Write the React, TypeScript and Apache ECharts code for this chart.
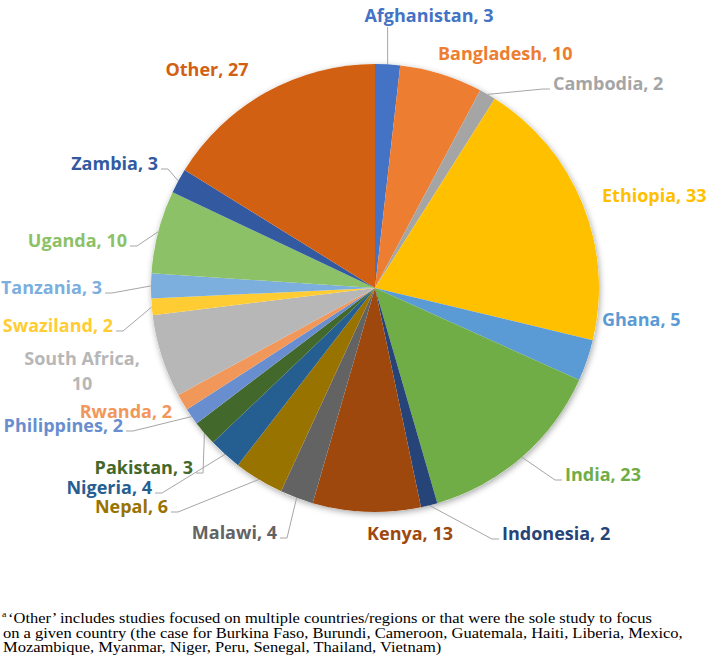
import React, { useEffect, useRef } from 'react';
import * as echarts from 'echarts';

// ---- data ----
const countries = [
  'Afghanistan', 'Bangladesh', 'Cambodia', 'Ethiopia', 'Ghana', 'India', 'Indonesia',
  'Kenya', 'Malawi', 'Nepal', 'Nigeria', 'Pakistan', 'Philippines', 'Rwanda',
  'South Africa', 'Swaziland', 'Tanzania', 'Uganda', 'Zambia', 'Other',
];
const studies = [3, 10, 2, 33, 5, 23, 2, 13, 4, 6, 4, 3, 2, 2, 10, 2, 3, 10, 3, 27];
const sliceColors = [
  '#4472C4', '#ED7D31', '#A5A5A5', '#FFC000', '#5B9BD5', '#70AD47', '#264478',
  '#9E480E', '#636363', '#997300', '#255E91', '#43682B', '#698ED0', '#F1975A',
  '#B7B7B7', '#FFCD33', '#7CAFDD', '#8CC168', '#335AA1', '#D26012',
];
const wrappedLabels = ['South Africa'];

const captionMark = 'a';
const captionLines = [
  '\u2018Other\u2019 includes studies focused on multiple countries/regions or that were the sole study to focus',
  'on a given country (the case for Burkina Faso, Burundi, Cameroon, Guatemala, Haiti, Liberia, Mexico,',
  'Mozambique, Myanmar, Niger, Peru, Senegal, Thailand, Vietnam)',
];

// label placement (layout only): [anchorX, centerY, align, leader mode]
const labelSpots: [number, number, string, string][] = [
  [429, 15, 'center', 'bottom'],
  [438, 53, 'left', 'none'],
  [553, 83, 'left', 'side'],
  [602, 195, 'left', 'none'],
  [602, 319, 'left', 'none'],
  [565, 474, 'left', 'side'],
  [502, 533, 'left', 'side'],
  [410, 533, 'center', 'none'],
  [277, 532, 'right', 'side'],
  [168, 506, 'right', 'side'],
  [152, 487, 'right', 'side'],
  [193, 467, 'right', 'side'],
  [123, 425, 'right', 'side'],
  [172, 411, 'right', 'none'],
  [82, 370, 'center', 'none'],
  [113, 325, 'right', 'side'],
  [102, 287, 'right', 'side'],
  [127, 240, 'right', 'side'],
  [158, 163, 'right', 'side'],
  [207, 69, 'center', 'none'],
];

const CENTER = [375, 288];
const RADIUS = 224;

export default function App() {
  const ref = useRef<HTMLDivElement>(null);
  useEffect(() => {
    if (!ref.current) return;
    const chart = echarts.init(ref.current, null, { renderer: 'svg' });
    const data = countries.map((name, i) => ({
      name,
      value: studies[i],
      itemStyle: { color: sliceColors[i] },
      label: {
        color: sliceColors[i],
        lineHeight: wrappedLabels.includes(name) ? 25 : 18,
      },
      labelLine: { show: labelSpots[i][3] !== 'none' },
    }));
    const serif = '"Liberation Serif", "Times New Roman", serif';
    chart.setOption({
      animation: false,
      backgroundColor: '#ffffff',
      series: [
        {
          type: 'pie',
          silent: true,
          z: 1,
          center: CENTER,
          radius: RADIUS,
          label: { show: false },
          labelLine: { show: false },
          data: [{ value: 1, itemStyle: { color: '#ffffff', shadowBlur: 6, shadowColor: 'rgba(0,0,0,0.35)', shadowOffsetX: 1, shadowOffsetY: 2 } }],
        },
        {
          type: 'pie',
          z: 2,
          center: CENTER,
          radius: RADIUS,
          startAngle: 90,
          clockwise: true,
          avoidLabelOverlap: false,
          itemStyle: { borderWidth: 0 },
          label: {
            show: true,
            position: 'outside',
            fontFamily: '"Open Sans"',
            fontWeight: 'bold',
            fontSize: 18,
            formatter: (p: any) =>
              p.name + ',' + (wrappedLabels.includes(p.name) ? '\n' : ' ') + p.value,
          },
          labelLine: {
            show: true,
            length: 10,
            length2: 10,
            smooth: false,
            lineStyle: { color: '#A6A6A6', width: 1 },
          },
          labelLayout: (p: any) => {
            const spot = labelSpots[p.dataIndex];
            const [ax, ay, align, mode] = spot;
            const w = p.labelRect.width;
            const h = p.labelRect.height;
            const left = align === 'left' ? ax : align === 'right' ? ax - w : ax - w / 2;
            const right = left + w;
            const res: any = { x: ax, y: ay, align, verticalAlign: 'middle' };
            const pts = p.labelLinePoints;
            if (pts && pts[0] && mode !== 'none') {
              const a = pts[0];
              if (mode === 'bottom') {
                const by = ay + h / 2 + 3;
                res.labelLinePoints = [a, [a[0], by], [a[0], by]];
              } else if (left > a[0]) {
                res.labelLinePoints = [a, [left - 10, ay + 6], [left - 3, ay + 6]];
              } else {
                res.labelLinePoints = [a, [right + 10, ay + 6], [right + 3, ay + 6]];
              }
            }
            return res;
          },
          data,
        },
      ],
      graphic: [
        {
          type: 'text',
          x: 2,
          y: 614,
          scaleX: 1.1,
          style: { text: captionMark, font: '9px ' + serif, fill: '#000', verticalAlign: 'middle', lineHeight: 8 },
        },
        ...captionLines.map((t, i) => ({
          type: 'text',
          x: i === 0 ? 8 : 3,
          y: 618 + i * 14.4,
          scaleX: 1.1,
          style: { text: t, font: '15px ' + serif, fill: '#000', verticalAlign: 'middle', lineHeight: 14 },
        })),
      ],
    });
    return () => chart.dispose();
  }, []);
  return (
    <div
      ref={ref}
      style={{ position: 'fixed', left: 0, top: 0, width: 712, height: 666, background: '#fff' }}
    />
  );
}
